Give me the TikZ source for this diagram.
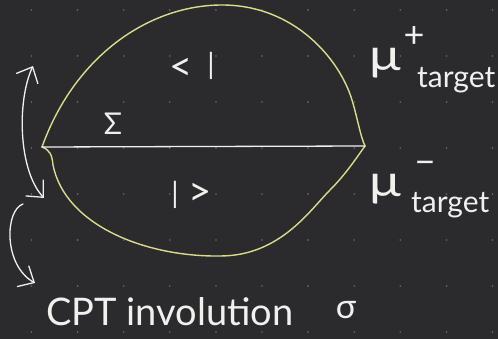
\documentclass[tikz,border=0pt]{standalone}
\usepackage{fontspec}
\setmainfont{Lato}
\usetikzlibrary{arrows.meta}
\definecolor{bg}{HTML}{2B2B2E}
\definecolor{ink}{HTML}{F0F0EE}
\definecolor{lemon}{HTML}{D6DE8C}
\definecolor{griddot}{HTML}{6A6A6C}
\tikzset{
  chalk/.style={draw=ink, line width=1.3pt, line cap=round},
  rim/.style={draw=lemon, line width=1.4pt, line cap=round},
  barb/.tip={Straight Barb[length=13pt,width=24pt,line width=1.3pt]},
  swing/.style={chalk, -barb},
  swing2/.style={chalk, barb-barb},
  label/.style={text=ink, inner sep=0pt},
  angle/.style={label, font=\fontsize{40}{40}\selectfont},
  bar/.style={label, font=\fontsize{29}{29}\selectfont},
  mu/.style={label, font=\fontsize{44}{44}\selectfont, xscale=1.2, anchor=base},
  sign/.style={label, font=\fontsize{36}{36}\selectfont},
  sub/.style={label, font=\fontsize{30}{30}\selectfont, anchor=base west},
}
\begin{document}
\begin{tikzpicture}[x=1pt,y=-1pt]
\fill[bg] (0,0) rectangle (498,339);
\useasboundingbox (0,0) rectangle (498,339);
% dot grid
\foreach \i in {0,...,10} {
  \foreach \j in {0,...,7} {
    \fill[griddot] ({31.5+46.1*\i},{10+46*\j}) circle (0.9pt);
  }
}
\coordinate (L) at (42,147);
\coordinate (R) at (365,146);
\coordinate (T) at (222,5);
\coordinate (B) at (220,256);
% upper lobe
\draw[rim] (L) .. controls (75,55) and (150,5) .. (T)
  .. controls (295,5) and (340,60) .. (352,100)
  .. controls (358,120) and (360,135) .. (R);
% lower lobe
\draw[rim] (L) .. controls (50,150) and (52,155) .. (53,165)
  .. controls (65,225) and (145,257) .. (B)
  .. controls (280,256) and (310,210) .. (330,190)
  .. controls (345,175) and (355,160) .. (R);
% Sigma line
\draw[chalk] (L) -- (R);
% labels
\node[angle] (braA) at (181,69) {<};
\node[bar] (braB) at (211,66) {|};
\node[bar] (ketA) at (175,195) {|};
\node[angle] (ketB) at (200,194) {>};
\node[label, font=\fontsize{30}{30}\selectfont] (sig) at (113,124) {Σ};
\node[mu] (mup) at (385,71) {μ};
\node[sign] (plus) at (414,37) {+};
\node[sub] (tgtp) at (417,88) {target};
\node[mu] (mum) at (385,197) {μ};
\node[sign] (minus) at (425,168) {−};
\node[sub] (tgtm) at (411,213) {target};
\node[label, font=\fontsize{38}{38}\selectfont, anchor=west] (cpt) at (46,312) {CPT involution};
\node[label, font=\fontsize{34}{34}\selectfont] (sigma) at (346,310) {σ};
% arrows
\coordinate (a1s) at (33,66);
\coordinate (a1e) at (44,198);
\draw[swing2] (a1s) .. controls (17,100) and (18,170) .. (a1e);
\coordinate (a2s) at (23,204);
\coordinate (a2e) at (35,283);
\draw[swing] (a2s) .. controls (5,210) and (3,265) .. (a2e);
\end{tikzpicture}
\end{document}
